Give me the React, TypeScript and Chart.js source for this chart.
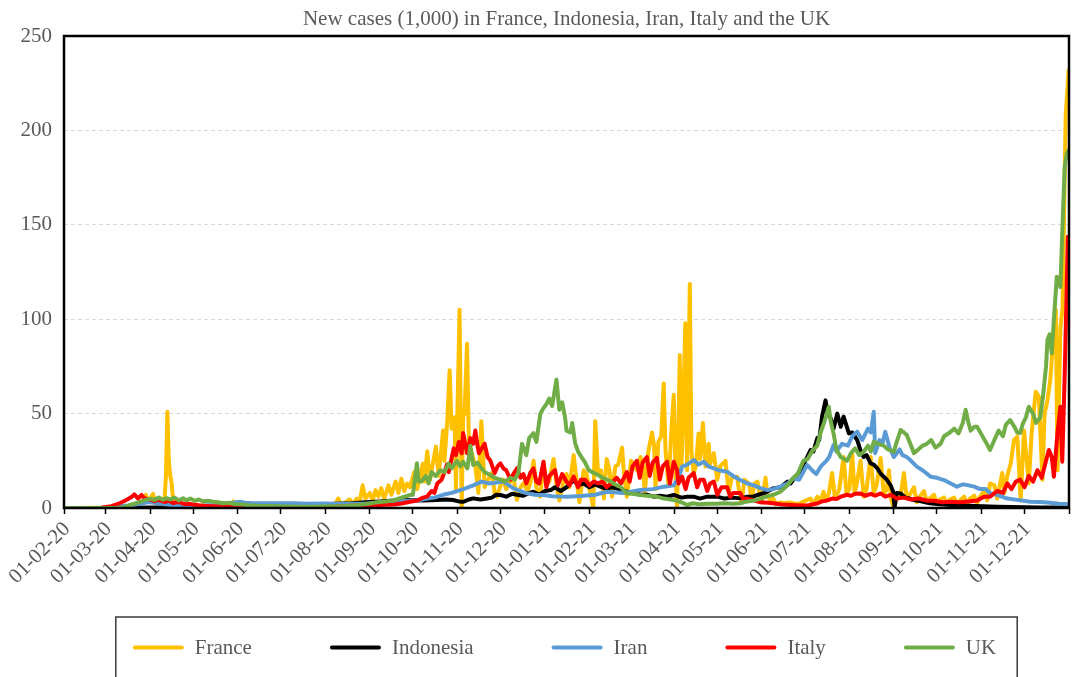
import React, { useEffect, useRef } from "react";
import { Chart, registerables } from "chart.js";

Chart.register(...registerables);

const FONT = '"Liberation Serif", "Times New Roman", serif';
const TEXT_GRAY = "#595959";

const TITLE = "New cases (1,000) in France, Indonesia, Iran, Italy and the UK";

// x values are days since 01-02-20
const monthTickDays = [0, 29, 60, 90, 121, 151, 182, 213, 243, 274, 304, 335, 366, 394, 425, 455, 486, 516, 547, 578, 608, 639, 669, 700];
const monthTickLabels = [
  "01-02-20", "01-03-20", "01-04-20", "01-05-20", "01-06-20", "01-07-20", "01-08-20", "01-09-20",
  "01-10-20", "01-11-20", "01-12-20", "01-01-21", "01-02-21", "01-03-21", "01-04-21", "01-05-21",
  "01-06-21", "01-07-21", "01-08-21", "01-09-21", "01-10-21", "01-11-21", "01-12-21", "",
];
const yTickValues = [0, 50, 100, 150, 200, 250];

const seriesNames = ["France", "Indonesia", "Iran", "Italy", "UK"];
const seriesColors = ["#FFC000", "#000000", "#5B9BD5", "#FF0000", "#70AD47"];

// [day, new cases in thousands]
const france: [number, number][] = [
  [0, 0], [30, 0.1], [40, 0.2], [45, 0.5], [48, 1], [51, 1.5], [53, 2.5], [55, 3.5], [57, 7], [58, 4], [60, 5], [62, 7.5], [63, 3], [65, 4.5], [67, 5], [69, 3], [70, 4], [71, 17], [72, 51], [73, 25], [74, 17], [75, 13], [76, 4], [78, 2], [80, 3.5], [83, 2], [86, 2.5], [89, 1], [92, 1.5], [96, 1], [100, 1.2], [104, 0.4], [108, 0.8], [112, 0.5], [116, 1], [118, 3.5], [119, 0.5], [124, 0.6], [130, 0.4], [137, 0.5], [145, 0.3], [152, 0.6], [160, 0.5], [168, 0.8], [175, 1], [180, 1.5], [184, 2], [188, 1], [190, 3.5], [191, 5], [193, 2], [196, 3], [199, 4.5], [201, 2], [204, 5], [206, 3], [208, 12], [210, 5], [213, 8], [215, 4], [217, 9.5], [219, 6], [221, 10.5], [223, 5], [226, 12], [228, 7], [231, 14], [233, 8], [235, 15.5], [237, 9], [239, 13], [241, 11], [244, 19], [246, 10], [250, 23.5], [251, 14], [253, 30], [255, 15], [259, 32.5], [261, 17], [264, 41], [265, 25], [267, 46.5], [268.6, 73], [270, 42], [272, 48], [273, 10], [274, 50], [275.5, 105], [277, 0.5], [278, 48], [279, 50], [280.7, 87], [282, 35], [283, 32], [286.5, 22], [288.6, 8], [290.7, 46], [293, 11], [296, 16], [298, 18.5], [300, 8], [301.6, 6], [304, 12], [306, 15], [308, 10], [310, 13], [313, 16.6], [315.5, 4.2], [318, 11], [320, 13], [323, 9], [325, 14], [327, 25], [329, 11], [331.8, 6], [334, 24.5], [336, 12], [338, 14], [341, 26], [343, 12], [345, 4], [348, 14], [350, 18], [352, 11], [355, 28], [357, 15], [359, 3], [362, 20], [364, 18], [366, 10], [368.7, 0], [370, 46], [372, 18], [374, 20], [376, 5], [378, 26], [380, 20], [381.7, 6], [384, 22], [386, 23], [388.7, 32], [390, 19], [392, 6], [395, 25], [397, 22], [399, 20], [401.5, 27], [403, 24], [404.5, 8], [407, 30], [409.6, 40], [411, 33], [412, 10], [414, 35], [416, 38], [417.7, 66], [419, 30], [421, 12], [423, 40], [424.7, 60], [426, 16], [427, 0.5], [428.9, 81], [430, 20], [431, 43], [432.8, 97.8], [434, 20], [435.9, 118.6], [437, 30], [438.6, 18.4], [440, 22], [442, 39.5], [443, 26], [445, 45], [446.8, 22], [449, 34], [450, 23.6], [452.6, 29], [455, 15], [457, 22], [460.7, 25], [463, 8], [465, 16], [468.9, 16.6], [470, 10], [472, 3], [474, 15], [477, 13], [479, 5], [481, 13], [483, 14], [485, 6], [486, 3], [488.6, 16], [490, 6], [492, 4.2], [494, 5], [496, 2], [499, 3], [502, 2.5], [505, 3], [508, 2.5], [511, 2], [514, 3], [517, 4], [520, 5], [522, 2], [524.7, 6], [527, 4], [529, 8.6], [531, 4], [532.7, 7.7], [535, 18.5], [537, 5], [540, 10], [543, 27], [545, 7.7], [547, 10], [549, 29], [550.6, 8], [552, 12], [554.8, 25], [557, 6], [559, 10], [561.8, 27], [564, 8], [566, 12], [568.8, 26.5], [571, 7], [573, 10], [574.6, 20], [576, 5], [578, 0], [580, 6], [583, 8], [585, 18.5], [587, 5], [589, 7], [592, 11], [594, 3], [596, 6], [599, 9], [601, 3], [603, 5], [606, 7], [608, 2], [610, 4.5], [613, 5.5], [615, 2], [617, 4.5], [620, 5.5], [622, 2], [624, 4], [627, 6], [629, 2], [631, 5], [634, 6.5], [636, 2.5], [638, 6], [641, 9], [643, 4], [645, 13], [648, 12], [650, 5], [653.5, 18.5], [655, 8], [657, 17], [659.4, 23.6], [661.7, 36], [664, 37.8], [666.3, 4], [668.7, 41], [670, 30], [672, 13], [674, 40], [676.8, 61.6], [679, 59], [681.5, 15], [683, 50], [685, 57], [687, 68], [689, 90], [690.8, 105], [692, 20], [694, 95], [695.5, 106], [697.7, 208], [699.8, 232],
];

const indonesia: [number, number][] = [
  [0, 0], [40, 0], [50, 0.1], [60, 0.2], [70, 0.3], [80, 0.35], [90, 0.4], [100, 0.5], [110, 0.6], [120, 0.7], [130, 0.9], [140, 1.1], [150, 1.4], [160, 1.6], [170, 1.7], [180, 1.8], [190, 2.2], [200, 2.5], [210, 3], [220, 3.5], [230, 4], [240, 4.2], [250, 4], [260, 4.3], [266, 4.5], [271, 4.2], [275, 3.5], [278, 3.3], [282, 4.5], [285, 5.1], [290, 4.5], [294.6, 5], [298, 5.5], [301, 7], [304, 6.9], [308, 6], [312, 7.5], [315.5, 7], [320, 6.5], [324, 8], [327, 8.6], [331, 7], [335, 9], [339, 9.5], [342, 11], [346, 9], [350, 11], [355, 14.8], [358, 12], [362, 13], [366, 11], [370, 12.5], [373.6, 11.3], [378, 10], [381, 11], [385, 10.4], [390, 9], [396.8, 7.8], [402, 7], [406, 7], [410.7, 6], [415, 6.5], [420, 6], [424.7, 6.9], [430, 5.5], [434, 6], [438.6, 6], [443, 5], [448, 6], [455, 6], [460, 5], [466, 5.5], [471, 5.1], [476, 6], [480, 6], [483, 6.9], [488, 8], [494, 10.4], [499, 11], [504, 14], [506, 13], [510, 17], [513, 20], [517, 26], [520, 30.7], [522, 30], [524.7, 37], [526, 36], [528, 48.4], [530.4, 57], [532, 50], [534, 47.5], [536, 42], [538.6, 50], [541, 43], [543, 48.4], [546.7, 39.5], [549, 40], [552.5, 36], [555, 30], [557, 27], [559, 28], [561.8, 23.6], [564, 23], [566.5, 21], [569, 18], [571, 16.6], [573, 15], [575.8, 12], [577.5, 8.6], [578.5, 0], [580, 8], [582.7, 7.7], [586, 5.5], [589, 5], [592, 4.2], [597, 3.5], [603, 2.5], [610, 2], [620, 1.5], [630, 1.2], [640, 0.9], [650, 0.7], [660, 0.5], [670, 0.4], [680, 0.3], [690, 0.3], [700, 0.3],
];

const iran: [number, number][] = [
  [0, 0], [20, 0], [25, 0.05], [30, 0.3], [35, 0.7], [40, 1], [45, 1.3], [50, 1.8], [55, 2.5], [58, 3], [60, 3.1], [63, 2.8], [66, 2.5], [70, 2], [73, 1.7], [76, 1.6], [80, 1.3], [85, 1.2], [88, 1.1], [92, 1.1], [96, 1.2], [100, 1.4], [105, 1.6], [110, 2], [115, 2.5], [120, 3], [123, 3.3], [126, 2.8], [130, 2.6], [140, 2.5], [150, 2.5], [160, 2.5], [170, 2.3], [180, 2.4], [190, 2.2], [200, 2.2], [210, 2.3], [220, 2.9], [230, 3.3], [240, 3.8], [247, 4.1], [253, 5], [258, 5.5], [264, 7], [270, 8], [276, 9.5], [280, 10.5], [285, 12], [291, 14], [296, 13], [301, 13.5], [306, 14], [310, 12], [313, 10.4], [318, 9], [322.5, 7.8], [328, 7], [334, 6.9], [340, 6.2], [350, 6], [360, 6.3], [370, 7], [378, 8.6], [390, 8], [401.5, 9.5], [410, 10], [418, 11.3], [424.7, 12], [428, 16], [430.5, 21.9], [434, 23], [438.6, 25.4], [442, 23], [445.6, 24.5], [449, 22], [452.6, 21], [456, 20], [462, 19.2], [466, 17], [471, 14.8], [476, 13], [480.5, 12], [485, 10.5], [490, 9.5], [494, 10], [499, 11.3], [504, 13], [508, 15.7], [512, 15], [517.6, 22.8], [521, 20], [524, 18], [527, 21.9], [531, 25], [533, 27], [536, 33.4], [538, 30], [542, 34], [546, 33], [549, 38], [552.5, 40.4], [556, 36], [560, 42], [562, 40], [564, 51], [565, 29], [568, 36], [570, 34], [572, 40.4], [575, 32], [578, 27], [582, 31], [584, 28], [587, 27], [590, 25], [594, 21.9], [598, 20], [603.6, 16.6], [608, 16], [613, 14.8], [617.6, 13], [622, 11.3], [626, 12.5], [630, 12], [634, 11.3], [638, 10], [642, 10], [645, 7.8], [650, 7], [657, 5], [664, 4.3], [673, 3.3], [680, 3.2], [687, 2.8], [693, 2.3], [700, 2],
];

const italy: [number, number][] = [
  [0, 0], [22, 0], [26, 0.1], [29, 0.5], [33, 1], [37, 2], [41, 3.3], [44, 4.5], [47, 5.8], [49, 7.2], [51.6, 5], [54, 6.9], [56, 5.2], [58, 4.8], [60, 4.5], [63, 3.6], [65, 4.3], [67, 4], [70, 3.2], [73, 3.8], [76, 2.6], [79, 3.2], [81, 3], [84, 2], [87, 2.3], [90, 1.9], [94, 1.5], [98, 1.2], [102, 1], [106, 0.9], [112, 0.6], [120, 0.4], [130, 0.3], [140, 0.25], [150, 0.2], [160, 0.2], [170, 0.2], [180, 0.35], [190, 0.8], [200, 1.2], [210, 1.4], [220, 1.6], [230, 1.8], [236, 2.5], [241, 3.3], [246, 4], [250, 5.5], [252.8, 6], [256, 9], [258, 8], [260, 13], [263, 15], [265, 19], [266.7, 23], [268, 19], [271.4, 31.6], [273, 28], [275, 35], [277, 29], [278, 39.7], [280.7, 29], [283, 37], [285, 34], [286.5, 41], [288, 33], [289, 29], [291, 31.6], [293, 34], [295, 27], [297, 25], [300, 18.5], [302, 22], [304, 23.6], [306, 21], [308, 20], [311, 15], [313, 18], [315.5, 21], [318, 16], [320, 18], [322, 13], [325, 19], [327, 21], [329, 14], [331, 13], [334, 24.5], [336, 11], [338, 17], [342, 20], [344, 12], [347, 18], [350, 14], [352, 12], [355, 16.6], [358, 11], [360, 15], [363, 15], [366, 12], [369, 14], [372, 13], [375, 14], [378, 11], [381, 13], [385, 16], [388, 13], [392, 19], [394, 14], [396, 22], [399, 25], [401, 16], [403, 24], [406, 27], [408, 17], [410, 24], [413, 26.5], [415, 15], [417, 22], [420, 24.5], [422, 13], [424.7, 24.5], [427, 20], [428, 13], [430.5, 16.6], [433, 10], [435, 16], [438.6, 18.5], [441, 11], [443, 15], [445.6, 15], [448, 9], [450, 13], [452.6, 14], [455, 7], [458, 11], [461.9, 11], [464, 6], [466, 8], [471, 8], [473, 5], [476, 5], [480.5, 4], [485, 3], [490, 2.8], [494, 2.5], [500, 1.8], [510, 1.5], [518, 1.3], [525, 2.5], [528, 3.5], [531.6, 4], [535, 5], [538, 4.8], [541, 6], [545.5, 7], [548, 6.5], [551, 7.5], [554.8, 7.7], [558, 6.5], [562, 7.5], [565, 6.5], [568.8, 7.7], [572, 6], [576, 7], [580, 5], [585, 5.5], [590, 4.5], [595, 5], [601, 4], [606, 3.8], [612, 3], [618, 3.3], [624, 3], [630, 3.5], [636, 4], [640.8, 6], [645, 6], [650, 9], [654, 8], [657, 13], [660, 10], [663, 14], [666, 15], [669, 11], [672, 17], [675, 14], [678, 20], [681, 16], [684, 25], [686, 30.7], [688, 27], [689.5, 16.6], [692, 40], [694, 53.6], [695.3, 24.5], [697, 70], [699.2, 143.7],
];

const uk: [number, number][] = [
  [0, 0], [30, 0], [36, 0.1], [40, 0.3], [43, 0.7], [46, 1.6], [50, 2.5], [54, 3.5], [57, 4.3], [60, 5], [63, 4.3], [66, 5.5], [69, 4.4], [71.6, 5.2], [74, 4.5], [77, 5.5], [80, 4], [83, 5.2], [85, 4], [88, 5], [91, 3.8], [94, 4.5], [97, 3.4], [100, 3.8], [104, 3.3], [107, 3], [111, 2.5], [115, 2.8], [119, 2], [122.7, 2], [128, 1.5], [135, 1.2], [145, 1], [155, 0.8], [165, 0.7], [175, 0.7], [185, 0.9], [195, 1.1], [205, 1.6], [212, 2.3], [218, 3], [224, 3.5], [229.5, 4], [235, 5.5], [241, 6.9], [243, 7], [245.8, 23.7], [247, 14], [249, 14], [252, 17], [254, 13], [256, 19], [259, 17], [262, 20], [265, 19], [268, 23.6], [270, 21], [273.7, 25], [276, 22], [278, 24.5], [281, 21], [283, 33], [285, 22.8], [288, 24], [290, 21.9], [293, 19], [297, 17.5], [300, 16], [304, 15], [307, 14], [311, 16], [314, 15], [316.6, 19], [319, 34], [322, 28], [324, 37], [327, 39.6], [329, 35], [331.8, 50], [334, 53], [336, 55], [338, 58], [340, 54], [343, 68], [345, 52], [347, 56], [349, 48], [350, 41], [352.7, 40], [354, 45], [356, 34.4], [358, 30], [360.8, 26.5], [363, 24], [365.5, 20], [368, 19], [372, 17.5], [375, 16], [378, 15], [381, 14], [385, 12], [388, 11], [392, 7.7], [396, 7.5], [401.5, 6.9], [406, 6.5], [413, 6], [418, 5], [424.7, 4.2], [428, 3.5], [431, 2.7], [434, 1.6], [438, 2.5], [442, 2], [448, 2.2], [455, 2.2], [460, 2.5], [466, 2.3], [471, 2.5], [476, 3.5], [480, 3.8], [485, 5], [489, 6], [494, 7], [499, 8.6], [504, 12], [508, 16], [511, 18], [515, 25], [518, 26], [521, 30], [524.6, 33], [527, 40], [530, 46.6], [532.7, 53.6], [534, 46], [536, 39.5], [538, 31], [541, 27], [545.5, 25], [548, 29], [551, 31.6], [554, 28], [557, 29.8], [560, 33], [562, 30], [564, 35], [567, 34], [571, 33], [574, 31], [578, 29.8], [580, 35], [582.7, 41.3], [585, 40], [587, 38.7], [590, 33], [592, 29], [595, 31], [598, 33], [601, 34], [604, 36], [607, 32], [610.5, 34], [613, 38], [617, 40], [620, 42], [623, 39.5], [626, 45], [628, 52], [630, 45], [631.5, 41], [634, 43], [636, 43], [639, 39], [642, 35], [645, 30.7], [648, 36], [651, 41], [654, 38], [656, 44], [659, 46.6], [662, 43], [664, 40], [666, 39.7], [668, 45], [670, 48], [672, 53.6], [675, 50], [677, 45], [680, 48], [682, 60], [684, 75], [685, 89], [686.5, 92], [688, 82], [689.5, 100], [691.5, 122.5], [693, 120], [694, 117], [695.5, 150], [697, 180.8], [698.5, 188], [700, 189.6],
];

const seriesData = [france, indonesia, iran, italy, uk];

const decorPlugin = {
  id: "decor",
  afterDatasetsDraw(chart: any) {
    const { ctx, chartArea: a } = chart;
    ctx.save();
    ctx.strokeStyle = "#000000";
    ctx.lineWidth = 2.5;
    ctx.strokeRect(a.left, a.top, a.right - a.left, a.bottom - a.top);
    ctx.restore();
  },
  afterDraw(chart: any) {
    const { ctx, chartArea: a } = chart;
    const cx = (a.left + a.right) / 2;
    ctx.save();
    ctx.fillStyle = TEXT_GRAY;
    ctx.font = `21px ${FONT}`;
    ctx.textAlign = "center";
    ctx.textBaseline = "alphabetic";
    ctx.fillText(TITLE, cx, 25);

    // legend
    const lineLen = 51;
    const gap = 11;
    const spacing = 78;
    ctx.font = `21px ${FONT}`;
    const widths = seriesNames.map((n) => ctx.measureText(n).width);
    const total = widths.reduce((s, w) => s + lineLen + gap + w, 0) + spacing * (seriesNames.length - 1);
    let x = cx - total / 2 - 2;
    const ly = 647.5;
    const boxLeft = x - 17;
    const boxRight = cx + (cx - boxLeft);
    ctx.strokeStyle = "#3a3a3a";
    ctx.lineWidth = 1.5;
    ctx.strokeRect(boxLeft, 617, boxRight - boxLeft, 100);
    ctx.textAlign = "left";
    ctx.textBaseline = "middle";
    seriesNames.forEach((name, i) => {
      ctx.strokeStyle = seriesColors[i];
      ctx.lineWidth = 4;
      ctx.lineCap = "round";
      ctx.beginPath();
      ctx.moveTo(x + 2, ly);
      ctx.lineTo(x + lineLen - 2, ly);
      ctx.stroke();
      ctx.fillStyle = TEXT_GRAY;
      ctx.fillText(name, x + lineLen + gap, ly + 1);
      x += lineLen + gap + widths[i] + spacing;
    });
    ctx.restore();
  },
};

export default function App() {
  const canvasRef = useRef<HTMLCanvasElement | null>(null);

  useEffect(() => {
    const canvas = canvasRef.current;
    if (!canvas) return;
    const chart = new Chart(canvas, {
      type: "line",
      data: {
        datasets: seriesNames.map((name, i) => ({
          label: name,
          data: seriesData[i].map(([x, y]) => ({ x, y })),
          borderColor: seriesColors[i],
          backgroundColor: seriesColors[i],
          borderWidth: 4,
          pointRadius: 0,
          tension: 0,
          fill: false,
          borderJoinStyle: "round" as const,
          borderCapStyle: "round" as const,
          order: seriesNames.length - i,
        })),
      },
      options: {
        responsive: false,
        animation: false,
        devicePixelRatio: 1,
        layout: { padding: { top: 36, right: 4, left: 0, bottom: 0 } },
        plugins: {
          legend: { display: false },
          title: { display: false },
          tooltip: { enabled: false },
        },
        scales: {
          x: {
            type: "linear",
            min: 0,
            max: 700,
            afterBuildTicks: (scale: any) => {
              scale.ticks = monthTickDays.map((v) => ({ value: v }));
            },
            afterFit: (scale: any) => {
              scale.height = 169;
              scale.paddingLeft = 0;
              scale.paddingRight = 0;
            },
            ticks: {
              autoSkip: false,
              minRotation: 45,
              maxRotation: 45,
              padding: 3,
              labelOffset: 3,
              color: TEXT_GRAY,
              font: { family: FONT, size: 21 },
              callback: (value: any) => {
                const idx = monthTickDays.indexOf(Number(value));
                return idx >= 0 ? monthTickLabels[idx] : "";
              },
            },
            grid: {
              drawOnChartArea: false,
              drawTicks: true,
              tickLength: 6,
              tickColor: "#000000",
              tickWidth: 1.5,
            },
            border: { display: false },
          },
          y: {
            min: 0,
            max: 250,
            afterBuildTicks: (scale: any) => {
              scale.ticks = yTickValues.map((v) => ({ value: v }));
            },
            afterFit: (scale: any) => {
              scale.width = 64;
              scale.paddingTop = 0;
              scale.paddingBottom = 0;
            },
            ticks: {
              padding: 12,
              color: TEXT_GRAY,
              font: { family: FONT, size: 21 },
            },
            grid: {
              color: "#d9d9d9",
              lineWidth: 1,
              drawTicks: false,
            },
            border: { display: false, dash: [4, 3] },
          },
        },
      },
      plugins: [decorPlugin],
    });
    return () => chart.destroy();
  }, []);

  return (
    <div style={{ position: "fixed", left: 0, top: 0, width: 1073, height: 677, background: "#ffffff" }}>
      <canvas ref={canvasRef} width={1073} height={677} style={{ width: 1073, height: 677, display: "block" }} />
    </div>
  );
}
